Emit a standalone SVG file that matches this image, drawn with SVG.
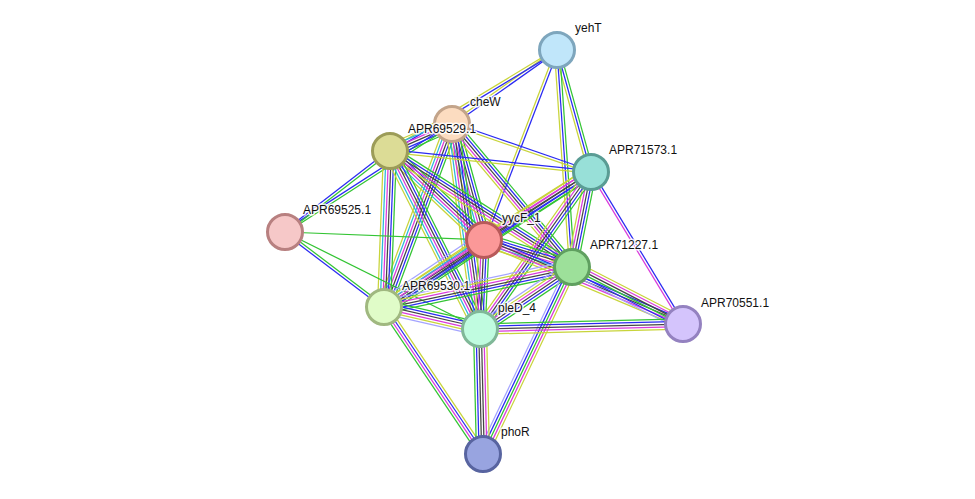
<svg xmlns="http://www.w3.org/2000/svg" width="975" height="499" viewBox="0 0 975 499">
<style>
#edges line{stroke-width:1.25;fill:none;vector-effect:non-scaling-stroke}
.nb{stroke:#33c433}.co{stroke:#2a2af2}.tm{stroke:#c8d43a}.ex{stroke:#da3ada}.cx{stroke:#444}.db{stroke:#2bb8d8}.ho{stroke:#a4a4ff}
.node circle{stroke-width:3}
.node text{font-family:"Liberation Sans",Arial,sans-serif;font-size:12px;fill:#111;stroke:#fff;stroke-width:3;stroke-opacity:0.85;paint-order:stroke;stroke-linejoin:round}
</style>
<rect width="975" height="499" fill="#fff"/>
<g id="edges">
<g transform="translate(557 50) rotate(144.83) scale(1 1.3)"><line x2="128.5" y1="-1" y2="-1" class="co"/><line x2="128.5" y1="1" y2="1" class="tm"/></g>
<g transform="translate(557 50) rotate(148.84) scale(1 1.3)"><line x2="195.2" y1="-1" y2="-1" class="co"/><line x2="195.2" y1="1" y2="1" class="tm"/></g>
<g transform="translate(557 50) rotate(111.01) scale(1 1.3)"><line x2="203.5" y1="-1" y2="-1" class="co"/><line x2="203.5" y1="1" y2="1" class="tm"/></g>
<g transform="translate(557 50) rotate(74.43) scale(1 1.3)"><line x2="126.7" y1="-2" y2="-2" class="nb"/><line x2="126.7" class="co"/><line x2="126.7" y1="2" y2="2" class="tm"/></g>
<g transform="translate(557 50) rotate(86.05) scale(1 1.3)"><line x2="217.5" y1="-2" y2="-2" class="nb"/><line x2="217.5" class="co"/><line x2="217.5" y1="2" y2="2" class="tm"/></g>
<g transform="translate(452 124) rotate(156.46) scale(1 1.3)"><line x2="67.6" y1="-5" y2="-5" class="nb"/><line x2="67.6" y1="-3" y2="-3" class="co"/><line x2="67.6" y1="-1" y2="-1" class="cx"/><line x2="67.6" y1="1" y2="1" class="ex"/><line x2="67.6" y1="3" y2="3" class="db"/><line x2="67.6" y1="5" y2="5" class="tm"/></g>
<g transform="translate(452 124) rotate(19.05) scale(1 1.3)"><line x2="147" y1="-1" y2="-1" class="co"/><line x2="147" y1="1" y2="1" class="tm"/></g>
<g transform="translate(452 124) rotate(74.58) scale(1 1.3)"><line x2="120.3" y1="-5" y2="-5" class="nb"/><line x2="120.3" y1="-3" y2="-3" class="co"/><line x2="120.3" y1="-1" y2="-1" class="cx"/><line x2="120.3" y1="1" y2="1" class="ex"/><line x2="120.3" y1="3" y2="3" class="db"/><line x2="120.3" y1="5" y2="5" class="tm"/></g>
<g transform="translate(452 124) rotate(50) scale(1 1.3)"><line x2="186.7" y1="-4" y2="-4" class="nb"/><line x2="186.7" y1="-2" y2="-2" class="co"/><line x2="186.7" class="cx"/><line x2="186.7" y1="2" y2="2" class="ex"/><line x2="186.7" y1="4" y2="4" class="tm"/></g>
<g transform="translate(452 124) rotate(110.38) scale(1 1.3)"><line x2="195.2" y1="-5" y2="-5" class="nb"/><line x2="195.2" y1="-3" y2="-3" class="co"/><line x2="195.2" y1="-1" y2="-1" class="cx"/><line x2="195.2" y1="1" y2="1" class="ex"/><line x2="195.2" y1="3" y2="3" class="db"/><line x2="195.2" y1="5" y2="5" class="tm"/></g>
<g transform="translate(452 124) rotate(82.22) scale(1 1.3)"><line x2="206.9" y1="-5" y2="-5" class="nb"/><line x2="206.9" y1="-3" y2="-3" class="co"/><line x2="206.9" y1="-1" y2="-1" class="cx"/><line x2="206.9" y1="1" y2="1" class="ex"/><line x2="206.9" y1="3" y2="3" class="db"/><line x2="206.9" y1="5" y2="5" class="tm"/></g>
<g transform="translate(452 124) rotate(147.13) scale(1 1.3)"><line x2="198.9" y1="-1" y2="-1" class="nb"/><line x2="198.9" y1="1" y2="1" class="co"/></g>
<g transform="translate(390 151) rotate(142.35) scale(1 1.3)"><line x2="132.6" y1="-1" y2="-1" class="nb"/><line x2="132.6" y1="1" y2="1" class="co"/></g>
<g transform="translate(390 151) rotate(5.96) scale(1 1.3)"><line x2="202.1" y1="-1" y2="-1" class="co"/><line x2="202.1" y1="1" y2="1" class="tm"/></g>
<g transform="translate(390 151) rotate(43.44) scale(1 1.3)"><line x2="129.5" y1="-5" y2="-5" class="nb"/><line x2="129.5" y1="-3" y2="-3" class="co"/><line x2="129.5" y1="-1" y2="-1" class="cx"/><line x2="129.5" y1="1" y2="1" class="ex"/><line x2="129.5" y1="3" y2="3" class="db"/><line x2="129.5" y1="5" y2="5" class="tm"/></g>
<g transform="translate(390 151) rotate(32.52) scale(1 1.3)"><line x2="215.8" y1="-4" y2="-4" class="nb"/><line x2="215.8" y1="-2" y2="-2" class="co"/><line x2="215.8" class="cx"/><line x2="215.8" y1="2" y2="2" class="ex"/><line x2="215.8" y1="4" y2="4" class="tm"/></g>
<g transform="translate(390 151) rotate(92.2) scale(1 1.3)"><line x2="156.1" y1="-5" y2="-5" class="nb"/><line x2="156.1" y1="-3" y2="-3" class="co"/><line x2="156.1" y1="-1" y2="-1" class="cx"/><line x2="156.1" y1="1" y2="1" class="ex"/><line x2="156.1" y1="3" y2="3" class="db"/><line x2="156.1" y1="5" y2="5" class="tm"/></g>
<g transform="translate(390 151) rotate(63.18) scale(1 1.3)"><line x2="199.5" y1="-5" y2="-5" class="nb"/><line x2="199.5" y1="-3" y2="-3" class="co"/><line x2="199.5" y1="-1" y2="-1" class="cx"/><line x2="199.5" y1="1" y2="1" class="ex"/><line x2="199.5" y1="3" y2="3" class="db"/><line x2="199.5" y1="5" y2="5" class="tm"/></g>
<g transform="translate(285 232) rotate(2.3)"><line x2="199.2" class="nb"/></g>
<g transform="translate(285 232) rotate(37.15) scale(1 1.3)"><line x2="124.2" y1="-1" y2="-1" class="nb"/><line x2="124.2" y1="1" y2="1" class="co"/></g>
<g transform="translate(285 232) rotate(26.45)"><line x2="217.8" class="nb"/></g>
<g transform="translate(591 172) rotate(147.56) scale(1 1.3)"><line x2="126.8" y1="-4" y2="-4" class="nb"/><line x2="126.8" y1="-2" y2="-2" class="co"/><line x2="126.8" class="cx"/><line x2="126.8" y1="2" y2="2" class="ex"/><line x2="126.8" y1="4" y2="4" class="tm"/></g>
<g transform="translate(591 172) rotate(101.31) scale(1 1.3)"><line x2="96.9" y1="-4" y2="-4" class="nb"/><line x2="96.9" y1="-2" y2="-2" class="co"/><line x2="96.9" class="cx"/><line x2="96.9" y1="2" y2="2" class="ex"/><line x2="96.9" y1="4" y2="4" class="tm"/></g>
<g transform="translate(591 172) rotate(146.89) scale(1 1.3)"><line x2="247.1" y1="-4" y2="-4" class="nb"/><line x2="247.1" y1="-2" y2="-2" class="co"/><line x2="247.1" class="cx"/><line x2="247.1" y1="2" y2="2" class="ex"/><line x2="247.1" y1="4" y2="4" class="tm"/></g>
<g transform="translate(591 172) rotate(125.26) scale(1 1.3)"><line x2="192.3" y1="-4" y2="-4" class="nb"/><line x2="192.3" y1="-2" y2="-2" class="co"/><line x2="192.3" class="cx"/><line x2="192.3" y1="2" y2="2" class="ex"/><line x2="192.3" y1="4" y2="4" class="tm"/></g>
<g transform="translate(591 172) rotate(58.81) scale(1 1.3)"><line x2="177.7" y1="-1" y2="-1" class="co"/><line x2="177.7" y1="1" y2="1" class="ex"/></g>
<g transform="translate(484 240) rotate(17.06) scale(1 1.3)"><line x2="92" y1="-5" y2="-5" class="nb"/><line x2="92" y1="-3" y2="-3" class="co"/><line x2="92" y1="-1" y2="-1" class="cx"/><line x2="92" y1="1" y2="1" class="ex"/><line x2="92" y1="3" y2="3" class="db"/><line x2="92" y1="5" y2="5" class="tm"/></g>
<g transform="translate(484 240) rotate(146.18) scale(1 1.3)"><line x2="120.4" y1="-6" y2="-6" class="nb"/><line x2="120.4" y1="-4" y2="-4" class="co"/><line x2="120.4" y1="-2" y2="-2" class="cx"/><line x2="120.4" class="ex"/><line x2="120.4" y1="2" y2="2" class="db"/><line x2="120.4" y1="4" y2="4" class="tm"/><line x2="120.4" y1="6" y2="6" class="ho"/></g>
<g transform="translate(484 240) rotate(92.57) scale(1 1.3)"><line x2="89.1" y1="-4" y2="-4" class="nb"/><line x2="89.1" y1="-2" y2="-2" class="co"/><line x2="89.1" class="cx"/><line x2="89.1" y1="2" y2="2" class="ex"/><line x2="89.1" y1="4" y2="4" class="tm"/></g>
<g transform="translate(484 240) rotate(22.88) scale(1 1.3)"><line x2="216" y1="-3" y2="-3" class="co"/><line x2="216" y1="-1" y2="-1" class="cx"/><line x2="216" y1="1" y2="1" class="ex"/><line x2="216" y1="3" y2="3" class="tm"/></g>
<g transform="translate(572 267) rotate(167.99) scale(1 1.3)"><line x2="192.2" y1="-5" y2="-5" class="nb"/><line x2="192.2" y1="-3" y2="-3" class="co"/><line x2="192.2" y1="-1" y2="-1" class="cx"/><line x2="192.2" y1="1" y2="1" class="ex"/><line x2="192.2" y1="3" y2="3" class="tm"/><line x2="192.2" y1="5" y2="5" class="ho"/></g>
<g transform="translate(572 267) rotate(146.03) scale(1 1.3)"><line x2="110.9" y1="-5" y2="-5" class="nb"/><line x2="110.9" y1="-3" y2="-3" class="co"/><line x2="110.9" y1="-1" y2="-1" class="cx"/><line x2="110.9" y1="1" y2="1" class="ex"/><line x2="110.9" y1="3" y2="3" class="tm"/><line x2="110.9" y1="5" y2="5" class="ho"/></g>
<g transform="translate(572 267) rotate(27.18) scale(1 1.3)"><line x2="124.8" y1="-5" y2="-5" class="tm"/><line x2="124.8" y1="-3" y2="-3" class="ex"/><line x2="124.8" y1="-1" y2="-1" class="cx"/><line x2="124.8" y1="1" y2="1" class="nb"/><line x2="124.8" y1="3" y2="3" class="co"/><line x2="124.8" y1="5" y2="5" class="ho"/></g>
<g transform="translate(572 267) rotate(115.45) scale(1 1.3)"><line x2="207.1" y1="-4" y2="-4" class="tm"/><line x2="207.1" y1="-2" y2="-2" class="ex"/><line x2="207.1" class="nb"/><line x2="207.1" y1="2" y2="2" class="co"/><line x2="207.1" y1="4" y2="4" class="ho"/></g>
<g transform="translate(384 307) rotate(12.91) scale(1 1.3)"><line x2="98.5" y1="-5" y2="-5" class="nb"/><line x2="98.5" y1="-3" y2="-3" class="co"/><line x2="98.5" y1="-1" y2="-1" class="cx"/><line x2="98.5" y1="1" y2="1" class="ex"/><line x2="98.5" y1="3" y2="3" class="tm"/><line x2="98.5" y1="5" y2="5" class="ho"/></g>
<g transform="translate(384 307) rotate(56.04) scale(1 1.3)"><line x2="177.2" y1="-3" y2="-3" class="tm"/><line x2="177.2" y1="-1" y2="-1" class="co"/><line x2="177.2" y1="1" y2="1" class="ex"/><line x2="177.2" y1="3" y2="3" class="nb"/></g>
<g transform="translate(480 329) rotate(-1.41) scale(1 1.3)"><line x2="203.1" y1="-4" y2="-4" class="nb"/><line x2="203.1" y1="-2" y2="-2" class="co"/><line x2="203.1" class="cx"/><line x2="203.1" y1="2" y2="2" class="ex"/><line x2="203.1" y1="4" y2="4" class="tm"/></g>
<g transform="translate(480 329) rotate(88.63) scale(1 1.3)"><line x2="125" y1="-5" y2="-5" class="tm"/><line x2="125" y1="-3" y2="-3" class="ex"/><line x2="125" y1="-1" y2="-1" class="cx"/><line x2="125" y1="1" y2="1" class="cx"/><line x2="125" y1="3" y2="3" class="co"/><line x2="125" y1="5" y2="5" class="nb"/></g>
</g>
<g id="n-yehT" class="node"><circle cx="557" cy="50" r="17.5" fill="#c0e6fa" stroke="#7ea6bd"/><text x="575" y="32">yehT</text></g>
<g id="n-cheW" class="node"><circle cx="452" cy="124" r="17.5" fill="#fcdcc0" stroke="#c3a48a"/><text x="470" y="106">cheW</text></g>
<g id="n-APR69529" class="node"><circle cx="390" cy="151" r="17.5" fill="#dcdc96" stroke="#9c9c58"/><text x="408" y="133">APR69529.1</text></g>
<g id="n-APR71573" class="node"><circle cx="591" cy="172" r="17.5" fill="#98e0d8" stroke="#5a9c94"/><text x="609" y="154">APR71573.1</text></g>
<g id="n-APR69525" class="node"><circle cx="285" cy="232" r="17.5" fill="#f6c8c8" stroke="#b88080"/><text x="303" y="214">APR69525.1</text></g>
<g id="n-yycF" class="node"><circle cx="484" cy="240" r="17.5" fill="#fb9898" stroke="#b85a5a"/><text x="502" y="222">yycF_1</text></g>
<g id="n-APR71227" class="node"><circle cx="572" cy="267" r="17.5" fill="#9de09a" stroke="#60a060"/><text x="590" y="249">APR71227.1</text></g>
<g id="n-APR69530" class="node"><circle cx="384" cy="307" r="17.5" fill="#e0fcc8" stroke="#a0b880"/><text x="402" y="290">APR69530.1</text></g>
<g id="n-pleD" class="node"><circle cx="480" cy="329" r="17.5" fill="#c0fce0" stroke="#80b898"/><text x="498" y="312">pleD_4</text></g>
<g id="n-APR70551" class="node"><circle cx="683" cy="324" r="17.5" fill="#d4c4fc" stroke="#9482c0"/><text x="701" y="307">APR70551.1</text></g>
<g id="n-phoR" class="node"><circle cx="483" cy="454" r="17.5" fill="#98a4e0" stroke="#5864a0"/><text x="501" y="436">phoR</text></g>
</svg>
